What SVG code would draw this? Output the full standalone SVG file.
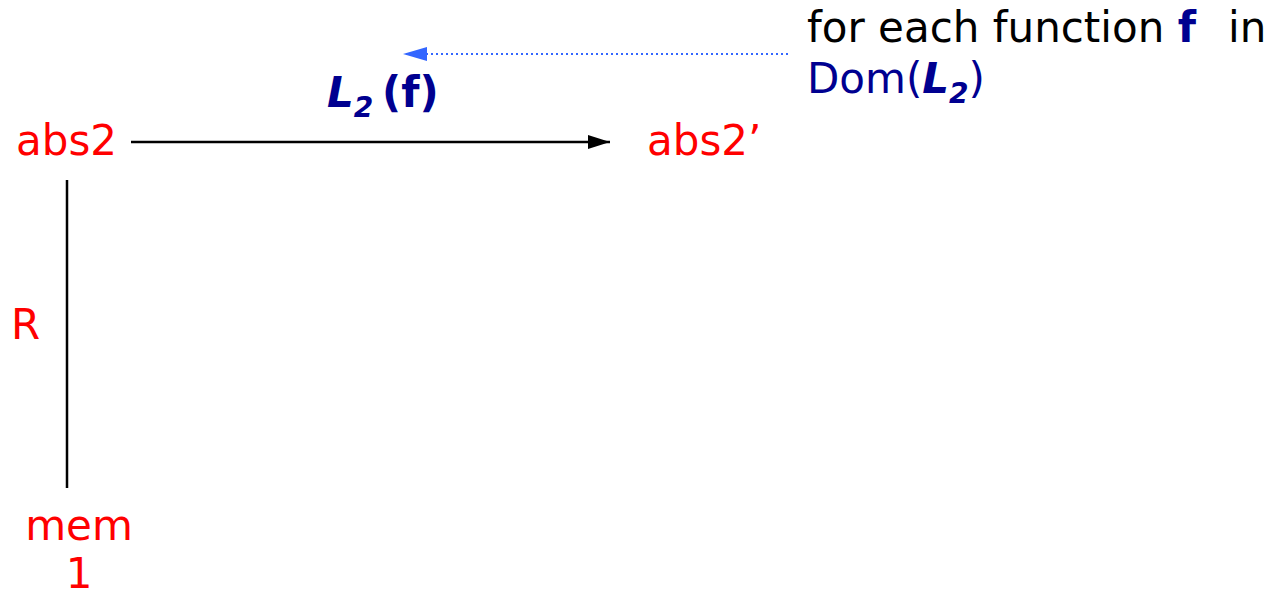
<svg xmlns="http://www.w3.org/2000/svg" width="1273" height="596" viewBox="0 0 1273 596">
<style>
text{font-family:"DejaVu Sans",sans-serif;font-size:42px}
.red{fill:#ff0000}
.navy{fill:#000090}
.blk{fill:#000000}
</style>
<defs>
<marker id="ah" markerWidth="22" markerHeight="14" refX="22" refY="7" orient="auto" markerUnits="userSpaceOnUse" viewBox="0 0 22 14"><path d="M0,0 L22,7 L0,14 Z" fill="#000"/></marker>
<marker id="ahb" markerWidth="24" markerHeight="14" refX="24" refY="7" orient="auto" markerUnits="userSpaceOnUse" viewBox="0 0 24 14"><path d="M0,0 L24,7 L0,14 Z" fill="#3366ff"/></marker>
</defs>
<g id="connectors">
<line x1="131" y1="142" x2="610" y2="142" stroke="#000" stroke-width="2.5" marker-end="url(#ah)"/>
<line x1="67" y1="180" x2="67" y2="488" stroke="#000" stroke-width="2.5"/>
<line x1="788" y1="54" x2="403" y2="54" stroke="#3366ff" stroke-width="2" stroke-dasharray="2,3" marker-end="url(#ahb)"/>
</g>
<g id="abs2"><text x="16" y="155" class="red">abs2</text></g>
<g id="abs2p"><text x="647" y="155" class="red">abs2’</text></g>
<g id="R"><text x="11" y="339" class="red">R</text></g>
<g id="mem1"><text x="79" y="540" class="red" text-anchor="middle">mem</text><text x="79" y="588" class="red" text-anchor="middle">1</text></g>
<g id="L2f"><text x="327" y="107" class="navy" font-weight="bold"><tspan font-style="italic">L</tspan><tspan font-style="italic" font-size="28" dy="10">2</tspan><tspan x="382" dy="-10">(f)</tspan></text></g>
<g id="note"><text x="807" y="42" class="blk">for each function <tspan class="navy" font-weight="bold">f</tspan><tspan x="1228">in</tspan></text>
<text x="807" y="93" class="navy">Dom(<tspan font-weight="bold" font-style="italic">L</tspan><tspan font-weight="bold" font-style="italic" font-size="28" dy="10">2</tspan><tspan dy="-10">)</tspan></text></g>
</svg>
